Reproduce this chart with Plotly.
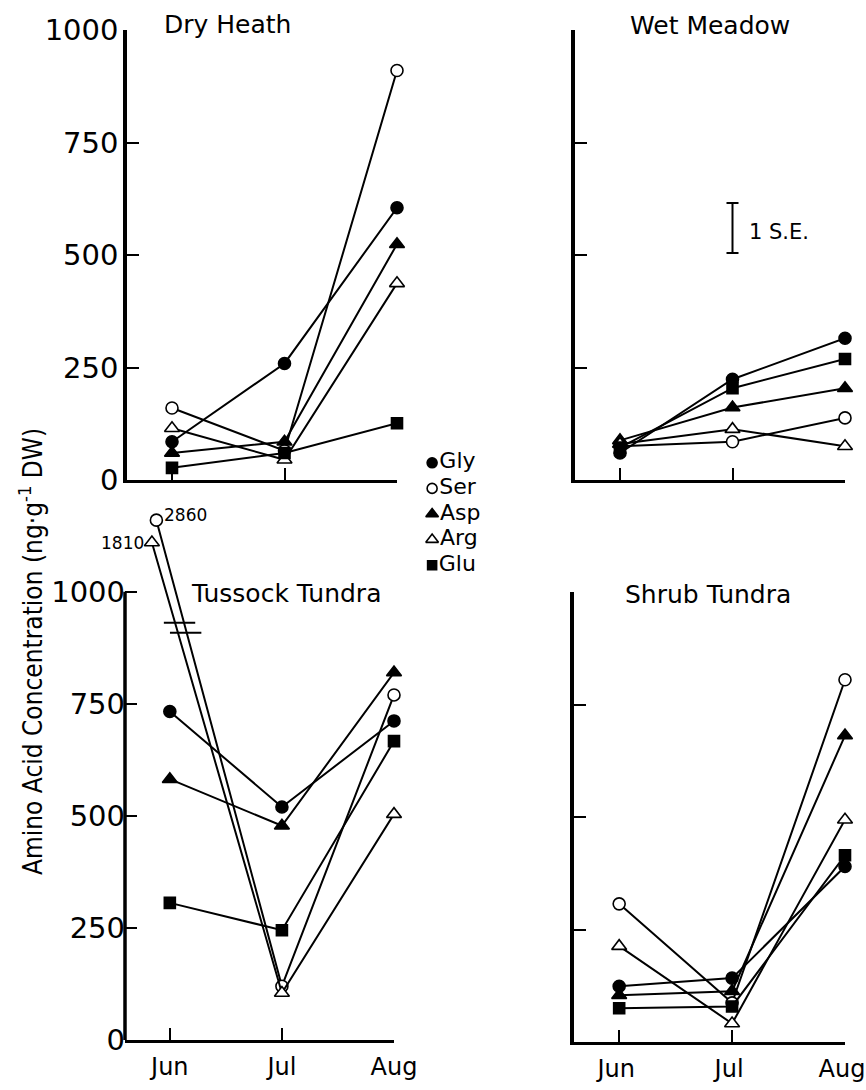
import plotly.graph_objects as go

# ---------------- data ----------------
months = ["Jun", "Jul", "Aug"]
month_pos = [0, 1, 2]
acids = ["Gly", "Ser", "Asp", "Arg", "Glu"]
panel_titles = ["Dry Heath", "Wet Meadow", "Tussock Tundra", "Shrub Tundra"]
y_ticks = [0, 250, 500, 750, 1000]
y_tick_labels = ["0", "250", "500", "750", "1000"]

dry_gly = [85, 259, 605]
dry_ser = [160, 65, 910]
dry_asp = [60, 85, 524]
dry_arg = [115, 45, 437]
dry_glu = [27, 60, 126]

wet_gly = [60, 224, 315]
wet_ser = [75, 85, 138]
wet_asp = [88, 161, 204]
wet_arg = [80, 113, 75]
wet_glu = [72, 204, 269]

tus_gly = [733, 520, 712]
tus_ser = [2860, 120, 770]
tus_asp = [582, 478, 820]
tus_arg = [1810, 105, 504]
tus_glu = [306, 245, 667]

shr_gly = [124, 142, 390]
shr_ser = [307, 87, 805]
shr_asp = [104, 113, 681]
shr_arg = [213, 41, 494]
shr_glu = [75, 79, 415]

# off-scale June values in Tussock Tundra (Ser, Arg) are drawn above a broken axis
offscale_acids = ["Ser", "Arg"]
offscale_display_y = [1160, 1110]
offscale_display_x = [-0.12, -0.16]
axis_break_levels = [931, 909]

# standard error bar (Wet Meadow)
se_label = "1 S.E."
se_length = 111
se_mid = 560

# ---------------- layout helpers ----------------
W, H = 866, 1090
FONT = "DejaVu Sans"


def fx(p):
    return p / W


def fy(p):
    return 1 - p / H


styles = {
    "Gly": ("circle", "black", 12),
    "Ser": ("circle", "white", 12),
    "Asp": ("triangle-up", "black", 13),
    "Arg": ("triangle-up", "white", 13),
    "Glu": ("square", "black", 11),
}

panels = [
    dict(data=[dry_gly, dry_ser, dry_asp, dry_arg, dry_glu],
         xpx=(127, 397), ypx=(480, 30), yr=[0, 1000], left=True, bottom=False,
         title_xy=(227, 24), label_shift=0),
    dict(data=[wet_gly, wet_ser, wet_asp, wet_arg, wet_glu],
         xpx=(575, 845), ypx=(480, 30), yr=[0, 1000], left=False, bottom=False,
         title_xy=(710, 26), label_shift=0),
    dict(data=[tus_gly, tus_ser, tus_asp, tus_arg, tus_glu],
         xpx=(125, 394), ypx=(1040, 500), yr=[0, 1205], left=True, bottom=True,
         title_xy=(286, 593), label_shift=0),
    dict(data=[shr_gly, shr_ser, shr_asp, shr_arg, shr_glu],
         xpx=(574, 845), ypx=(1042, 592), yr=[0, 1000], left=False, bottom=True,
         title_xy=(708, 594), label_shift=-3),
]

fig = go.Figure()
layout = dict(
    width=W, height=H, margin=dict(l=0, r=0, t=0, b=0, autoexpand=False),
    paper_bgcolor="white", plot_bgcolor="white", showlegend=False,
    font=dict(family=FONT, color="black"),
)
annotations = []
shapes = []

for i, p in enumerate(panels):
    n = i + 1
    xa = "x" if n == 1 else f"x{n}"
    ya = "y" if n == 1 else f"y{n}"
    broken = p["yr"][1] > 1000
    layout[f"xaxis{'' if n == 1 else n}"] = dict(
        domain=[fx(p["xpx"][0]), fx(p["xpx"][1])], range=[-0.4, 2.0],
        showline=True, linewidth=3, linecolor="black",
        ticks="inside", ticklen=12, tickwidth=2, tickcolor="black",
        tickvals=month_pos, ticktext=months, showticklabels=p["bottom"],
        tickfont=dict(size=24, family=FONT), ticklabelstandoff=3,
        ticklabelshift=p["label_shift"], ticklabeloverflow="allow",
        showgrid=False, zeroline=False, anchor=ya, automargin=False,
    )
    layout[f"yaxis{'' if n == 1 else n}"] = dict(
        domain=[fy(p["ypx"][0]), fy(p["ypx"][1])], range=p["yr"],
        showline=not broken, linewidth=3.5, linecolor="black",
        ticks="inside", ticklen=12, tickwidth=2.2, tickcolor="black",
        tickvals=y_ticks, ticktext=y_tick_labels, showticklabels=p["left"],
        tickfont=dict(size=29, family=FONT), ticklabelstandoff=-1,
        ticklabeloverflow="allow",
        showgrid=False, zeroline=False, anchor=xa, automargin=False,
    )
    if broken:
        shapes.append(dict(type="line", xref=f"{xa} domain", yref=ya,
                           x0=0, x1=0, y0=0, y1=1000,
                           line=dict(color="black", width=3.5)))
    for acid, vals in zip(acids, p["data"]):
        xs = list(month_pos)
        ys = list(vals)
        if broken and acid in offscale_acids:
            k = offscale_acids.index(acid)
            xs[0] = offscale_display_x[k]
            ys[0] = offscale_display_y[k]
        sym, fill, size = styles[acid]
        fig.add_trace(go.Scatter(
            x=xs, y=ys, xaxis=xa, yaxis=ya, mode="lines+markers", name=acid,
            line=dict(color="black", width=2),
            marker=dict(symbol=sym, color=fill, size=size,
                        line=dict(color="black", width=1.6)),
            cliponaxis=False, hoverinfo="skip",
        ))
        if broken and acid in offscale_acids:
            k = offscale_acids.index(acid)
            true_val = vals[0]
            annotations.append(dict(
                x=offscale_display_x[k], y=offscale_display_y[k], xref=xa, yref=ya,
                text=str(true_val), showarrow=False,
                xanchor="left" if acid == "Ser" else "right", yanchor="middle",
                xshift=6 if acid == "Ser" else -6, yshift=5 if acid == "Ser" else 0,
                font=dict(size=17, family=FONT)))
    if broken:
        # axis-break marks across the two off-scale lines
        lines = []
        for acid in offscale_acids:
            k = offscale_acids.index(acid)
            vals = p["data"][acids.index(acid)]
            lines.append(((offscale_display_x[k], offscale_display_y[k]), (1, vals[1])))
        for j, lvl in enumerate(axis_break_levels):
            xs_cross = []
            for (x0, y0), (x1, y1) in lines:
                t = (y0 - lvl) / (y0 - y1)
                xs_cross.append(x0 + t * (x1 - x0))
            c = sum(xs_cross) / 2 + 0.03 * j
            shapes.append(dict(type="line", xref=xa, yref=ya,
                               x0=c - 0.14, x1=c + 0.14, y0=lvl, y1=lvl,
                               line=dict(color="black", width=2)))
    tx, ty = p["title_xy"]
    annotations.append(dict(x=fx(tx), y=fy(ty), xref="paper", yref="paper",
                            text=panel_titles[i], showarrow=False,
                            xanchor="center", yanchor="middle",
                            font=dict(size=25, family=FONT)))

# SE bar in Wet Meadow panel
fig.add_trace(go.Scatter(
    x=[1], y=[se_mid], xaxis="x2", yaxis="y2", mode="markers",
    marker=dict(size=1, color="rgba(0,0,0,0)"),
    error_y=dict(type="data", array=[se_length / 2], color="black",
                 thickness=2, width=6),
    hoverinfo="skip", cliponaxis=False,
))
annotations.append(dict(x=1, y=se_mid - 8, xref="x2", yref="y2", text=se_label,
                        showarrow=False, xanchor="left", yanchor="middle",
                        xshift=14, font=dict(size=21, family=FONT)))

# legend (markers + labels) on a hidden helper axis
layout["xaxis5"] = dict(domain=[fx(425), fx(520)], range=[0, 1], visible=False,
                        anchor="y5", automargin=False)
layout["yaxis5"] = dict(domain=[fy(578), fy(450)], range=[4.5, -0.5],
                        visible=False, anchor="x5", automargin=False)
for j, acid in enumerate(acids):
    sym, fill, size = styles[acid]
    fig.add_trace(go.Scatter(
        x=[0.075], y=[j], xaxis="x5", yaxis="y5", mode="markers+text",
        text=[acid], textposition="middle right",
        textfont=dict(size=22, family=FONT),
        marker=dict(symbol=sym, color=fill, size=size - 2,
                    line=dict(color="black", width=1.6)),
        cliponaxis=False, hoverinfo="skip",
    ))

annotations.append(dict(
    x=fx(31), y=fy(652), xref="paper", yref="paper",
    text="Amino Acid Concentration (ng·g<sup>-1</sup> DW)", textangle=-90,
    showarrow=False, xanchor="center", yanchor="middle",
    font=dict(size=26, family="DejaVu Sans Condensed, DejaVu Sans")))

layout["annotations"] = annotations
layout["shapes"] = shapes
fig.update_layout(**layout)
fig.write_html(
    "out.html",
    config={"displayModeBar": False},
    post_script="document.body.style.margin='0';"
                "document.body.style.overflow='hidden';",
)
